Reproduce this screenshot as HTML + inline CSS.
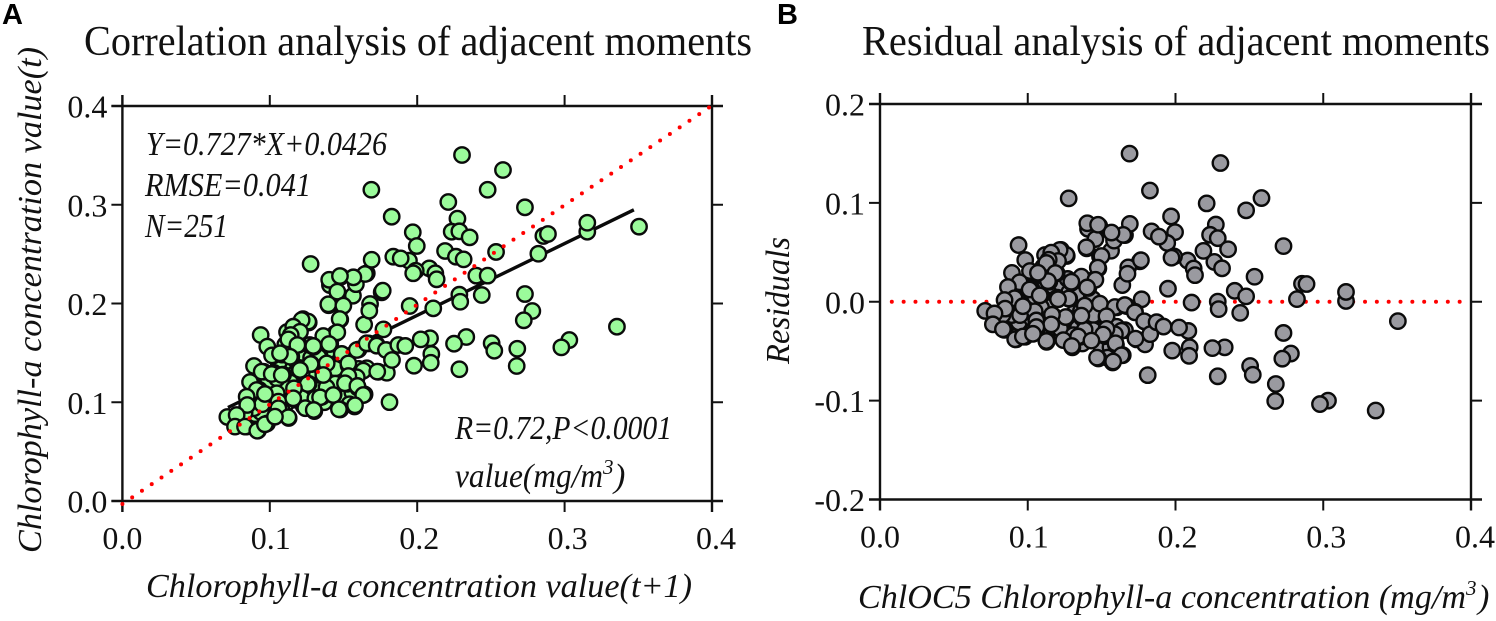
<!DOCTYPE html>
<html>
<head>
<meta charset="utf-8">
<title>Correlation and residual analysis of adjacent moments</title>
<style>
html,body{margin:0;padding:0;background:#fff;}
svg{display:block;}
text{font-family:"Liberation Serif",serif;fill:#111;}
.it{font-style:italic;}
.tick{font-size:32px;}
.panel{font-family:"Liberation Sans",sans-serif;font-weight:bold;font-size:29px;fill:#000;}
.title{font-size:42px;}
.lab{font-size:34px;font-style:italic;}
</style>
</head>
<body>
<svg id="chart" width="1496" height="621" viewBox="0 0 1496 621" xmlns="http://www.w3.org/2000/svg">
  <text class="panel" x="2" y="24">A</text>
  <text class="panel" x="777" y="24">B</text>
  <text class="title" x="84" y="55" textLength="668" lengthAdjust="spacingAndGlyphs">Correlation analysis of adjacent moments</text>
  <text class="title" x="862" y="55" textLength="628" lengthAdjust="spacingAndGlyphs">Residual analysis of adjacent moments</text>

  <g id="panelA"></g>
  <g id="panelB"></g>

  <text class="lab" x="146" y="155" textLength="241" lengthAdjust="spacingAndGlyphs">Y=0.727*X+0.0426</text>
  <text class="lab" x="145" y="196" textLength="166" lengthAdjust="spacingAndGlyphs">RMSE=0.041</text>
  <text class="lab" x="145" y="237" textLength="83" lengthAdjust="spacingAndGlyphs">N=251</text>
  <text class="lab" x="455" y="439" textLength="217" lengthAdjust="spacingAndGlyphs">R=0.72,P&lt;0.0001</text>
  <text class="lab" x="455" y="487" textLength="148" lengthAdjust="spacingAndGlyphs">value(mg/m</text>
  <text class="lab" x="603" y="474" style="font-size:21px">3</text>
  <text class="lab" x="614" y="487">)</text>

  <text class="lab" x="146" y="597" textLength="546" lengthAdjust="spacingAndGlyphs">Chlorophyll-a concentration value(t+1)</text>
  <text class="lab" transform="translate(41,553) rotate(-90)" textLength="506" lengthAdjust="spacingAndGlyphs">Chlorophyll-a concentration value(t)</text>
  <text class="lab" x="858" y="608" textLength="608" lengthAdjust="spacingAndGlyphs">ChlOC5 Chlorophyll-a concentration (mg/m</text>
  <text class="lab" x="1466" y="595" style="font-size:21px">3</text>
  <text class="lab" x="1478" y="608">)</text>
  <text class="lab" transform="translate(789,364) rotate(-90)" textLength="127" lengthAdjust="spacingAndGlyphs">Residuals</text>
</svg>
<script>
const xTickValues = [0, 0.1, 0.2, 0.3, 0.4];
const xTickLabels = ["0.0", "0.1", "0.2", "0.3", "0.4"];
const yTickValuesA = [0, 0.1, 0.2, 0.3, 0.4];
const yTickLabelsA = ["0.0", "0.1", "0.2", "0.3", "0.4"];
const yTickValuesB = [-0.2, -0.1, 0, 0.1, 0.2];
const yTickLabelsB = ["-0.2", "-0.1", "0.0", "0.1", "0.2"];
const fitSlope = 0.727;
const fitIntercept = 0.0426;
const fitRange = [0.0716, 0.347];

const chlorophyllNext = [
.105,.110,.118,.122,.128,.132,.138,.142,.148,.152,.100,.104,.112,.116,.124,.130,.136,.144,.150,.156,
.095,.099,.108,.114,.120,.126,.134,.140,.146,.154,.106,.111,.117,.123,.127,.133,.137,.143,.090,.094,
.1022,.1146,.1264,.1225,.1173,.1146,.1196,.1083,.0875,.0959,.1027,.1090,.0853,.0853,.0929,.0970,.1090,.1173,.1297,.1410,
.1281,.1392,.1264,.1365,.0767,.0841,.0920,.1128,.1302,.1061,.1173,.1354,.1433,.1523,.1591,.1597,.1478,.1575,.1643,.1812,
.1737,.1794,.1794,.1602,.1771,.1478,.1640,.1027,.1061,.0981,.0891,.0829,.0948,.1218,.1309,.1241,.1489,.1444,.1534,.1670,
.1726,.1658,.1534,.1444,.1602,.1365,.1444,.1489,.1399,.1564,.1658,.1408,.1403,.1484,.1584,.1117,.1105,.1049,.1385,
.1458,.1759,.1680,.1675,.1397,.1499,.1474,.1261,.1216,.1159,.1205,.0938,.1142,.1126,.1363,.1458,.1402,.1295,.1187,.0983,
.1015,.1137,.1069,.1488,.1590,.1657,.1725,.1788,.1829,.1872,.1277,.1386,.1533,.0893,.0945,.1013,.1081,.1205,.1363,.1634,
.1729,.1590,.1533,.1510,.1594,.0866,.0911,.1257,.1164,.1047,.0967,.0843,.0847,.1341,.1431,.1634,.1578,.1469,.1298,.1058,
.1159,.1058,.1126,.0712,.0775,.0764,.0832,.0915,.0967,.1035,
.1689,.1827,.1277,.1691,.1838,.1646,.1567,.1476,.1766,
.2304,.2582,.2478,.2211,.2731,.2273,.2234,.2286,.2356,.1970,.1997,.2189,.2263,.2315,.2535,.1944,.1888,.2082,.1990,.1973,
.2123,.2132,.2401,.2478,.2438,.2286,.2292,.2109,.1949,.2731,.2822,.2856,.2887,.3154,.3154,.3505,.2781,.2723,.3355,.3032,
.2978,.2679,.2675,.2505,.2523,.2333,.2250,.2286,.2087,.2024,.1919,.2096,.2092,.1978
];
const chlorophyllCurrent = [
.122,.134,.142,.150,.145,.128,.120,.112,.125,.135,.118,.095,.100,.128,.110,.098,.132,.150,.105,.110,
.100,.122,.092,.120,.134,.102,.114,.126,.140,.098,.140,.108,.112,.096,.158,.146,.100,.130,.088,.090,
.1473,.1674,.1808,.1841,.1769,.1462,.1583,.1483,.1201,.1309,.1299,.1279,.1063,.0962,.1125,.1080,.1161,.1137,.1561,.1590,
.1387,.1387,.1187,.1260,.0758,.0753,.0714,.0841,.0911,.0910,.1026,.1056,.1080,.1186,.1263,.1149,.0927,.0957,.1080,.1001,
.1308,.1299,.1527,.1534,.1738,.1838,.1787,.1005,.1015,.0785,.0939,.0894,.0980,.1042,.1040,.0940,.1458,.1341,.1373,.1596,
.1580,.1344,.1204,.1189,.1338,.1638,.1696,.1965,.1983,.2079,.2306,.2187,.2240,.2272,.2196,.1711,.1583,.1240,.1150,
.2120,.2113,.1995,.1927,.1992,.1978,.1843,.1816,.1833,.1765,.1714,.1681,.1681,.1637,.1671,.1708,.1590,.1570,.1580,.1563,
.1475,.1461,.1496,.1489,.1529,.1597,.1573,.1529,.1428,.1580,.1387,.1394,.1394,.1367,.1310,.1286,.1276,.1327,.1276,.1320,
.1310,.1253,.1266,.1192,.1165,.1205,.1124,.1185,.1141,.1091,.1084,.1056,.0972,.1050,.1073,.1073,.0969,.0929,.0922,.1006,
.1040,.0939,.0848,.0851,.0871,.0753,.0753,.0712,.0777,.0854,
.3152,.2879,.2400,.2443,.2474,.2299,.2265,.2278,.2130,
.3504,.3352,.3152,.3028,.2974,.2859,.2727,.2731,.2670,.2721,.2582,.2532,.2474,.2447,.2522,.2434,.2457,.2356,.2332,.2306,
.2306,.2245,.2282,.2282,.2086,.2089,.2018,.1951,.1975,.2096,.2504,.2684,.2704,.2727,.2818,.2778,.1924,.1830,.1765,.1630,
.1556,.1542,.1367,.1597,.1522,.1661,.1593,.1334,.1648,.1637,.1570,.1489,.1400,.1370
];
const residuals = chlorophyllCurrent.map((t, i) => t - (fitSlope * chlorophyllNext[i] + fitIntercept));

const NS = "http://www.w3.org/2000/svg";
const AXIS_COLOR = "#111";

function make(parent, tag, attrs) {
  const el = document.createElementNS(NS, tag);
  for (const k in attrs) el.setAttribute(k, attrs[k]);
  parent.appendChild(el);
  return el;
}

function linear(d0, d1, r0, r1) {
  return v => r0 + (v - d0) * (r1 - r0) / (d1 - d0);
}

function drawAxes(group, sx, sy, yVals, yLabs, box, prefix) {
  const L = 11;
  const frame = [
    [box.l - L, box.t, box.r + L, box.t],
    [box.l - L, box.b, box.r + L, box.b],
    [box.l, box.t - L, box.l, box.b + L],
    [box.r, box.t - L, box.r, box.b + L]
  ];
  frame.forEach(c => {
    const ln = make(group, "line", {x1: c[0], y1: c[1], x2: c[2], y2: c[3], stroke: AXIS_COLOR, "stroke-width": 2.4});
    
    
  });
  xTickValues.forEach((v, i) => {
    const x = sx(v);
    [[box.b, box.b + L], [box.t - L, box.t]].forEach(p => {
      const t = make(group, "line", {x1: x, y1: p[0], x2: x, y2: p[1], stroke: AXIS_COLOR, "stroke-width": 2});
      
      
    });
    const lab = make(group, "text", {x: x + v * 10, y: box.b + 48, "text-anchor": "middle", class: "tick"});
    
    
    lab.textContent = xTickLabels[i];
  });
  yVals.forEach((v, i) => {
    const y = sy(v);
    [[box.l - L, box.l], [box.r, box.r + L]].forEach(p => {
      const t = make(group, "line", {x1: p[0], y1: y, x2: p[1], y2: y, stroke: AXIS_COLOR, "stroke-width": 2});
      
      
    });
    const lab = make(group, "text", {x: box.l - 15, y: y + 11.5, "text-anchor": "end", class: "tick"});
    
    
    lab.textContent = yLabs[i];
  });
}

function drawPoints(group, xs, ys, sx, sy, fill, name) {
  xs.forEach((x, i) => {
    const c = make(group, "circle", {cx: sx(x), cy: sy(ys[i]), r: 7.7, fill: fill, stroke: "#0a0a0a", "stroke-width": 2.4});
    
    
  });
}

/* Panel A */
const gA = document.getElementById("panelA");
const boxA = {l: 122.4, r: 712, t: 106, b: 501};
const sxA = linear(0, 0.4, boxA.l, boxA.r);
const syA = linear(0, 0.4, boxA.b, boxA.t);
drawAxes(gA, sxA, syA, yTickValuesA, yTickLabelsA, boxA, "correlation");
const fitLine = make(gA, "line", {
  x1: sxA(fitRange[0]), y1: syA(fitSlope * fitRange[0] + fitIntercept),
  x2: sxA(fitRange[1]), y2: syA(fitSlope * fitRange[1] + fitIntercept),
  stroke: "#0a0a0a", "stroke-width": 3.4
});


drawPoints(gA, chlorophyllNext, chlorophyllCurrent, sxA, syA, "#9bfb9b", "correlation-point");
const identity = make(gA, "line", {
  x1: sxA(0), y1: syA(-0.003), x2: sxA(0.3985), y2: syA(0.399),
  stroke: "#ff0000", "stroke-width": 4, "stroke-linecap": "round", "stroke-dasharray": "0 11.8"
});



/* Panel B */
const gB = document.getElementById("panelB");
const boxB = {l: 880, r: 1471, t: 104, b: 499.5};
const sxB = linear(0, 0.4, boxB.l, boxB.r);
const syB = linear(-0.2, 0.2, boxB.b, boxB.t);
drawAxes(gB, sxB, syB, yTickValuesB, yTickLabelsB, boxB, "residual");
const zeroLine = make(gB, "line", {
  x1: sxB(0.008), y1: syB(0), x2: sxB(0.3935), y2: syB(0),
  stroke: "#ff0000", "stroke-width": 4, "stroke-linecap": "round", "stroke-dasharray": "0 11.83"
});


drawPoints(gB, chlorophyllNext, residuals, sxB, syB, "#9a9aa0", "residual-point");
</script>
</body>
</html>
